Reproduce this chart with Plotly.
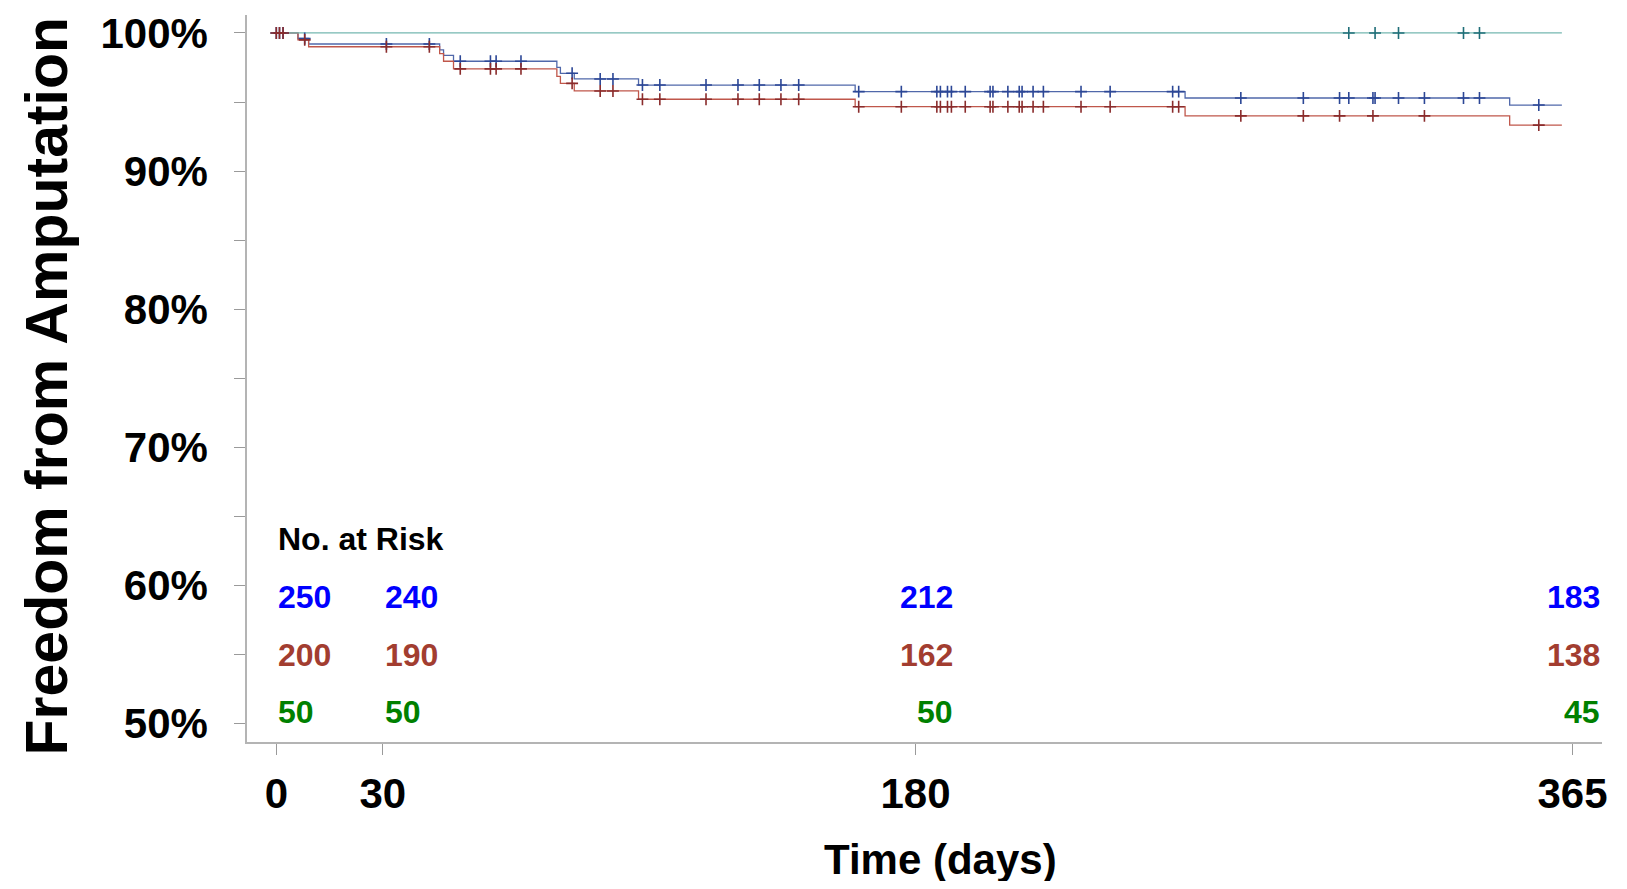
import plotly.graph_objects as go
import bisect

# ---------------- data ----------------
x_tick_days = [0, 30, 180, 365]
y_tick_vals = [50, 55, 60, 65, 70, 75, 80, 85, 90, 95, 100]
y_tick_text = ["50%", "", "60%", "", "70%", "", "80%", "", "90%", "", "100%"]

end_day = 362

# Overall (blue)
blue_times = [0, 6.1, 9.1, 46.0, 47.1, 49.9, 79.0, 80.0, 83.9, 102.0, 163.0, 255.9, 347.3]
blue_surv = [100, 99.6, 99.2, 98.78, 98.37, 97.95, 97.51, 97.08, 96.67, 96.23, 95.75, 95.29, 94.78]

# Subgroup of 200 (red)
red_times = [0, 6.1, 9.1, 46.0, 47.1, 49.9, 79.0, 80.0, 83.9, 102.0, 163.0, 255.9, 347.3]
red_surv = [100, 99.5, 99.0, 98.5, 97.95, 97.4, 96.85, 96.35, 95.8, 95.2, 94.66, 94.0, 93.33]

# Subgroup of 50 (teal)
teal_times = [0]
teal_surv = [100]

red_censor = [0, 0.9, 1.9, 8.0, 31.0, 43.1, 51.8, 60.3, 61.9, 68.9, 83.3, 91.2, 94.8,
              103.1, 108.0, 121.0, 130.0, 136.0, 142.1, 147.1, 164.0, 176.0, 186.0,
              187.0, 189.0, 190.1, 194.0, 201.0, 201.8, 206.0, 209.2, 210.0, 213.1,
              216.0, 226.6, 234.8, 252.4, 254.1, 271.6, 289.2, 299.4, 308.8, 323.3, 355.5]
teal_censor = [302.0, 309.4, 316.0, 334.3, 338.8]
blue_censor = sorted(red_censor + teal_censor)

risk_blue = [250, 240, 212, 183]
risk_red = [200, 190, 162, 138]
risk_green = [50, 50, 50, 45]

# ---------------- styles ----------------
FONT = "Liberation Sans"
c_blue_line, c_blue_mark = "#5068aa", "#2c4796"
c_red_line, c_red_mark = "#c0574b", "#8a2c2c"
c_teal_line, c_teal_mark = "#74b7b0", "#1f6e78"
c_txt_blue, c_txt_red, c_txt_green = "#0000ff", "#a23d30", "#008000"


def step_path(times, surv, end):
    return list(times) + [end], list(surv) + [surv[-1]]


def surv_at(times, surv, t):
    i = bisect.bisect_right(times, t) - 1
    return surv[max(i, 0)]


fig = go.Figure()

for times, surv, col in [(blue_times, blue_surv, c_blue_line),
                         (red_times, red_surv, c_red_line),
                         (teal_times, teal_surv, c_teal_line)]:
    xs, ys = step_path(times, surv, end_day)
    fig.add_trace(go.Scatter(x=xs, y=ys, mode="lines", line=dict(color=col, width=1.3, shape="hv"),
                             hoverinfo="skip", showlegend=False))

for times, surv, cens, col in [(blue_times, blue_surv, blue_censor, c_blue_mark),
                               (red_times, red_surv, red_censor, c_red_mark),
                               (teal_times, teal_surv, teal_censor, c_teal_mark)]:
    fig.add_trace(go.Scatter(x=cens, y=[surv_at(times, surv, c) for c in cens], mode="markers",
                             marker=dict(symbol="cross-thin", size=8.5,
                                         line=dict(color=col, width=1.6)),
                             hoverinfo="skip", showlegend=False))

# ---------------- number at risk table ----------------
col_pos = [(0, "left"), (30, "left"), (191.2, "right"), (373.2, "right")]
row_y = [59.15, 54.95, 50.84]
fig.add_annotation(x=0, y=63.35, xref="x", yref="y", text="No. at Risk", showarrow=False,
                   xanchor="left", yanchor="middle",
                   font=dict(family=FONT, size=32, color="black", weight="bold"))
for vals, col, yy in [(risk_blue, c_txt_blue, row_y[0]),
                      (risk_red, c_txt_red, row_y[1]),
                      (risk_green, c_txt_green, row_y[2])]:
    for (xp, anc), v in zip(col_pos, vals):
        fig.add_annotation(x=xp, y=yy, xref="x", yref="y", text=str(v), showarrow=False,
                           xanchor=anc, yanchor="middle",
                           font=dict(family=FONT, size=32, color=col, weight="bold"))

# axis titles
fig.add_annotation(x=-0.1476, y=0.489, xref="paper", yref="paper", text="Freedom from Amputation",
                   textangle=-90, showarrow=False, xanchor="center", yanchor="middle",
                   font=dict(family=FONT, size=59, color="black", weight="bold"))
fig.add_annotation(x=0.5117, y=-0.161, xref="paper", yref="paper", text="Time (days)",
                   showarrow=False, xanchor="center", yanchor="middle",
                   font=dict(family=FONT, size=42, color="black", weight="bold"))

fig.update_layout(
    width=1611, height=873,
    margin=dict(l=239, r=17, t=7, b=139),
    paper_bgcolor="white", plot_bgcolor="white",
    xaxis=dict(range=[-8.25, 373.3], tickvals=x_tick_days, ticktext=[str(d) for d in x_tick_days],
               automargin=False,
               showgrid=False, zeroline=False, showline=True, linecolor="#b4b4b4", linewidth=1.5,
               ticks="outside", ticklen=11, tickcolor="#9a9a9a", tickwidth=1.3,
               ticklabelstandoff=3,
               tickfont=dict(family=FONT, size=42, color="black", weight="bold")),
    yaxis=dict(range=[48.67, 101.3], tickvals=y_tick_vals, ticktext=y_tick_text,
               automargin=False,
               showgrid=False, zeroline=False, showline=True, linecolor="#b4b4b4", linewidth=1.5,
               ticks="outside", ticklen=11, tickcolor="#9a9a9a", tickwidth=1.3,
               ticklabelstandoff=18,
               tickfont=dict(family=FONT, size=42, color="black", weight="bold")),
)

fig.write_html("out.html")
